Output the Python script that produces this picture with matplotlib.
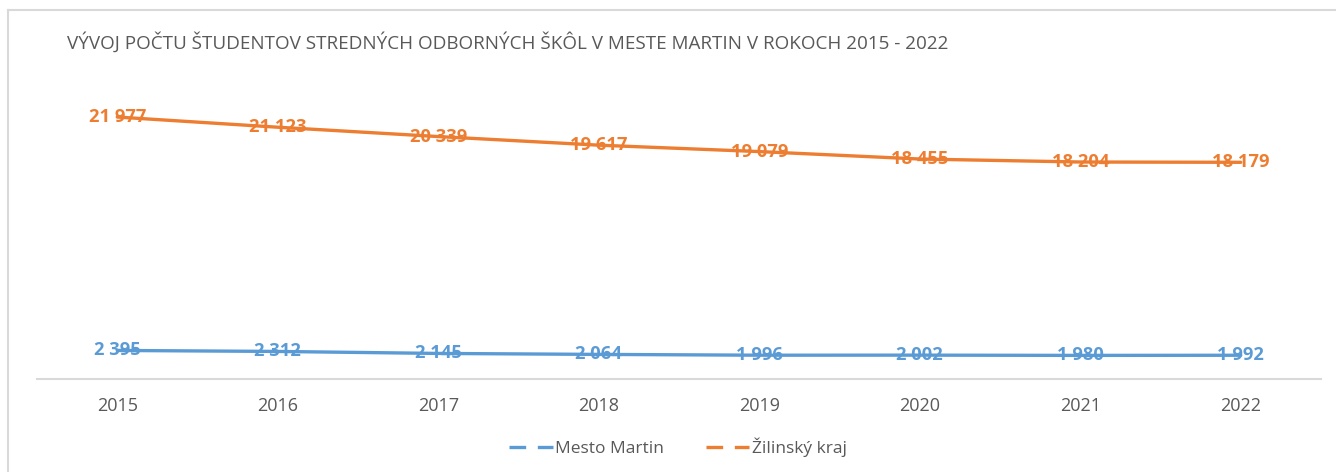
import matplotlib
matplotlib.use("Agg")
import matplotlib.pyplot as plt
from matplotlib.lines import Line2D
from matplotlib import font_manager

years = ["2015", "2016", "2017", "2018", "2019", "2020", "2021", "2022"]
martin = [2395, 2312, 2145, 2064, 1996, 2002, 1980, 1992]
zilina = [21977, 21123, 20339, 19617, 19079, 18455, 18204, 18179]
series_names = ["Mesto Martin", "Žilinský kraj"]
title = "VÝVOJ POČTU ŠTUDENTOV STREDNÝCH ODBORNÝCH ŠKÔL V MESTE MARTIN V ROKOCH 2015 - 2022"

avail = {f.name for f in font_manager.fontManager.ttflist}
fam = "Liberation Sans Narrow" if "Liberation Sans Narrow" in avail else "Open Sans"
plt.rcParams["font.family"] = [fam, "DejaVu Sans"]

W, H = 1336, 472
fig = plt.figure(figsize=(W / 100, H / 100), dpi=100)
fig.patch.set_facecolor("white")

# chart border
fig.add_artist(Line2D([7.5 / W, 7.5 / W], [0, 1 - 10 / H], transform=fig.transFigure, color="#D9D9D9", lw=1.5))
fig.add_artist(Line2D([7.5 / W, 1], [1 - 10 / H, 1 - 10 / H], transform=fig.transFigure, color="#D9D9D9", lw=1.5))

left, right = 37 / W, 1321 / W
bottom = 1 - 379 / H
top = 1 - 81 / H
ax = fig.add_axes([left, bottom, right - left, top - bottom])
x = list(range(len(years)))
blue, orange = "#5B9BD5", "#ED7D31"
ax.plot(x, martin, color=blue, lw=2.4, solid_capstyle="round")
ax.plot(x, zilina, color=orange, lw=2.4, solid_capstyle="round")

def fmt(v):
    return f"{v:,}".replace(",", " ")

for xi, v in zip(x, martin):
    ax.text(xi, v, fmt(v), color=blue, fontsize=13.2, fontweight="bold", ha="center", va="center")
for xi, v in zip(x, zilina):
    ax.text(xi, v, fmt(v), color=orange, fontsize=13.2, fontweight="bold", ha="center", va="center")

ax.set_xlim(-0.5, len(years) - 0.5)
ax.set_ylim(0, 25000)
ax.set_xticks(x)
ax.set_xticklabels(years, fontsize=13, color="#595959")
ax.tick_params(axis="x", length=0, pad=13)
ax.set_yticks([])
for s in ["top", "right", "left"]:
    ax.spines[s].set_visible(False)
ax.spines["bottom"].set_color("#D9D9D9")
ax.spines["bottom"].set_linewidth(1.5)
ax.set_facecolor("none")

fig.text(67 / W, 1 - 42 / H, title, fontsize=13.6, color="#595959", ha="left", va="center")

handles = [Line2D([], [], color=blue, lw=2.4, linestyle=(0, (5, 3.5))),
           Line2D([], [], color=orange, lw=2.4, linestyle=(0, (5, 3.5)))]
fig.legend(handles, series_names, loc="center", bbox_to_anchor=(678 / W, 1 - 447 / H), ncol=2,
           frameon=False, fontsize=12.5, labelcolor="#595959", handlelength=2.5, handletextpad=0.15,
           columnspacing=2.4)

fig.savefig("out.png", dpi=100, facecolor="white")
